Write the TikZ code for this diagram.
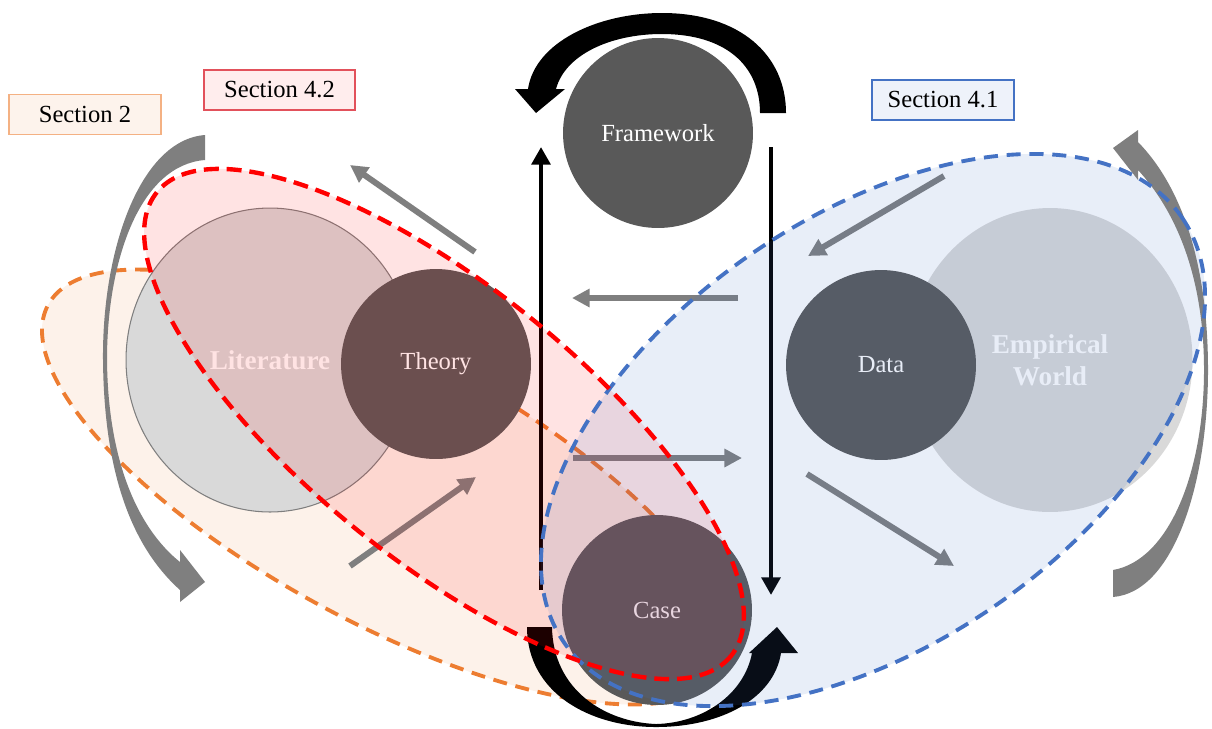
\documentclass[tikz,border=0pt]{standalone}
\usepackage{fontspec}
\setmainfont{Liberation Serif}
\usetikzlibrary{arrows.meta,shapes.geometric}
\definecolor{hubgray}{HTML}{595959}
\definecolor{realmgray}{HTML}{D9D9D9}
\definecolor{flowgray}{HTML}{7F7F7F}
\definecolor{zoneorange}{HTML}{ED7D31}
\definecolor{zonered}{HTML}{FF0000}
\definecolor{zoneblue}{HTML}{4472C4}
\definecolor{tagorange}{HTML}{F4B183}
\definecolor{tagred}{HTML}{E2515B}
\begin{document}
\begin{tikzpicture}[x=0.02cm, y=-0.02cm,
  hub/.style={circle, fill=hubgray, inner sep=0pt, minimum size=3.8cm,
    text=white, font=\fontsize{14}{16}\selectfont},
  realm/.style={ellipse, fill=realmgray, inner sep=0pt, minimum width=5.76cm,
    minimum height=6.08cm, text=white, align=center,
    font=\fontsize{15.5}{18}\selectfont\bfseries},
  flow/.style={draw=flowgray, line width=3.4pt, -{Triangle[length=10pt,width=10pt]}},
  loopline/.style={draw=black, line width=2.7pt, -{Triangle[length=10pt,width=10.5pt]}},
  tag/.style={draw, line width=0.85pt, inner sep=0pt, minimum height=0.8cm,
    text=black, font=\fontsize{14}{16}\selectfont},
  orangezone/.style={draw=zoneorange, line width=2.2pt, dash pattern=on 8pt off 5pt},
  redzone/.style={draw=zonered, line width=2.5pt, dash pattern=on 8.5pt off 4.5pt},
  bluezone/.style={draw=zoneblue, line width=2.2pt, dash pattern=on 8pt off 5pt}
]
\useasboundingbox (0,0) rectangle (1212,728);

% Section 2 zone (lies beneath everything else)
\begin{scope}[shift={(385,487)}, rotate=-28.4]
  \fill[zoneorange!10] (0,0) ellipse [x radius=383, y radius=135];
  \path[orangezone] (0,0) ellipse [x radius=383, y radius=135];
\end{scope}

% large light bodies
\node[realm, draw=flowgray, line width=0.6pt] (literature) at (270,360) {Literature};
\node[realm, minimum width=5.7cm] (empirical) at (1050,360) {Empirical\\World};

% dark hubs
\node[hub] (framework) at (658,133) {Framework};
\node[hub] (theory) at (436,364) {Theory};
\node[hub] (data) at (881,365) {Data};
\node[hub] (case) at (657,610) {Case};

% grey transfer arrows
\coordinate (g1a) at (475,252); \coordinate (g1b) at (350,165);
\coordinate (g2a) at (738,298); \coordinate (g2b) at (572,298);
\coordinate (g3a) at (573,458); \coordinate (g3b) at (742,458);
\coordinate (g4a) at (350,566); \coordinate (g4b) at (476,477);
\coordinate (g5a) at (944,176); \coordinate (g5b) at (808,256);
\coordinate (g6a) at (807,474); \coordinate (g6b) at (954,566);
\draw[flow] (g1a) -- (g1b);
\draw[flow] (g2a) -- (g2b);
\draw[flow] (g3a) -- (g3b);
\draw[flow] (g4a) -- (g4b);
\draw[flow] (g5a) -- (g5b);
\draw[flow] (g6a) -- (g6b);

% black vertical arrows of the loop
\coordinate (upTail) at (541,590); \coordinate (upHead) at (541,147);
\coordinate (downTail) at (771,147); \coordinate (downHead) at (771,595);
\draw[loopline] (upTail) -- (upHead);
\draw[loopline] (downTail) -- (downHead);

% black curved arrow over Framework
\fill[black] (786,113) .. controls (786,55) and (740,13) .. (662,13)
  .. controls (598,13) and (535,42) .. (528,89) -- (515,89) -- (536,113) -- (565,89)
  -- (556,89) .. controls (565,55) and (610,34) .. (662,34)
  .. controls (725,34) and (760,65) .. (760,113) -- cycle;

% black curved arrow under Case
\fill[black] (527,627) .. controls (527,693) and (590,727) .. (656,727)
  .. controls (722,727) and (774,698) .. (781,653) -- (798,653) -- (777,627) -- (749,653)
  -- (752,653) .. controls (744,695) and (702,723) .. (656,724)
  .. controls (605,722) and (553,690) .. (552,627) -- cycle;

% translucent zones
\begin{scope}[shift={(444,424)}, rotate=-38.9]
  \fill[zonered, fill opacity=0.11] (0,0) ellipse [x radius=369, y radius=137];
\end{scope}
\begin{scope}[shift={(873,430)}, rotate=34.5]
  \fill[zoneblue, fill opacity=0.12] (0,0) ellipse [x radius=375, y radius=214];
\end{scope}

% grey sweeping arrows at the sides
\fill[flowgray] (205,135) .. controls (140,140) and (102,250) .. (103,360)
  .. controls (104,470) and (130,545) .. (180,590) -- (180,602) -- (205,582)
  -- (180,550) -- (180,562) .. controls (140,530) and (108,465) .. (107,360)
  .. controls (107,260) and (140,165) .. (205,160) -- cycle;
\fill[flowgray] (1113,597) .. controls (1175,592) and (1208,480) .. (1208,370)
  .. controls (1208,260) and (1180,185) .. (1138,142) -- (1138,130) -- (1113,148)
  -- (1138,180) -- (1138,170) .. controls (1175,210) and (1204,275) .. (1204,370)
  .. controls (1204,470) and (1170,560) .. (1113,570) -- cycle;

% zone outlines
\begin{scope}[shift={(873,430)}, rotate=34.5]
  \path[bluezone] (0,0) ellipse [x radius=375, y radius=214];
\end{scope}
\begin{scope}[shift={(444,424)}, rotate=-38.9]
  \path[redzone] (0,0) ellipse [x radius=369, y radius=137];
\end{scope}

% section tags
\node[tag, draw=tagorange, fill=zoneorange!9, minimum width=3.04cm] (sec2) at (85,114.5) {Section 2};
\node[tag, draw=tagred, fill=zonered!7, minimum width=3.02cm] (sec42) at (279.5,90) {Section 4.2};
\node[tag, draw=zoneblue, fill=zoneblue!9, minimum width=2.84cm] (sec41) at (943,100) {Section 4.1};
\end{tikzpicture}
\end{document}
